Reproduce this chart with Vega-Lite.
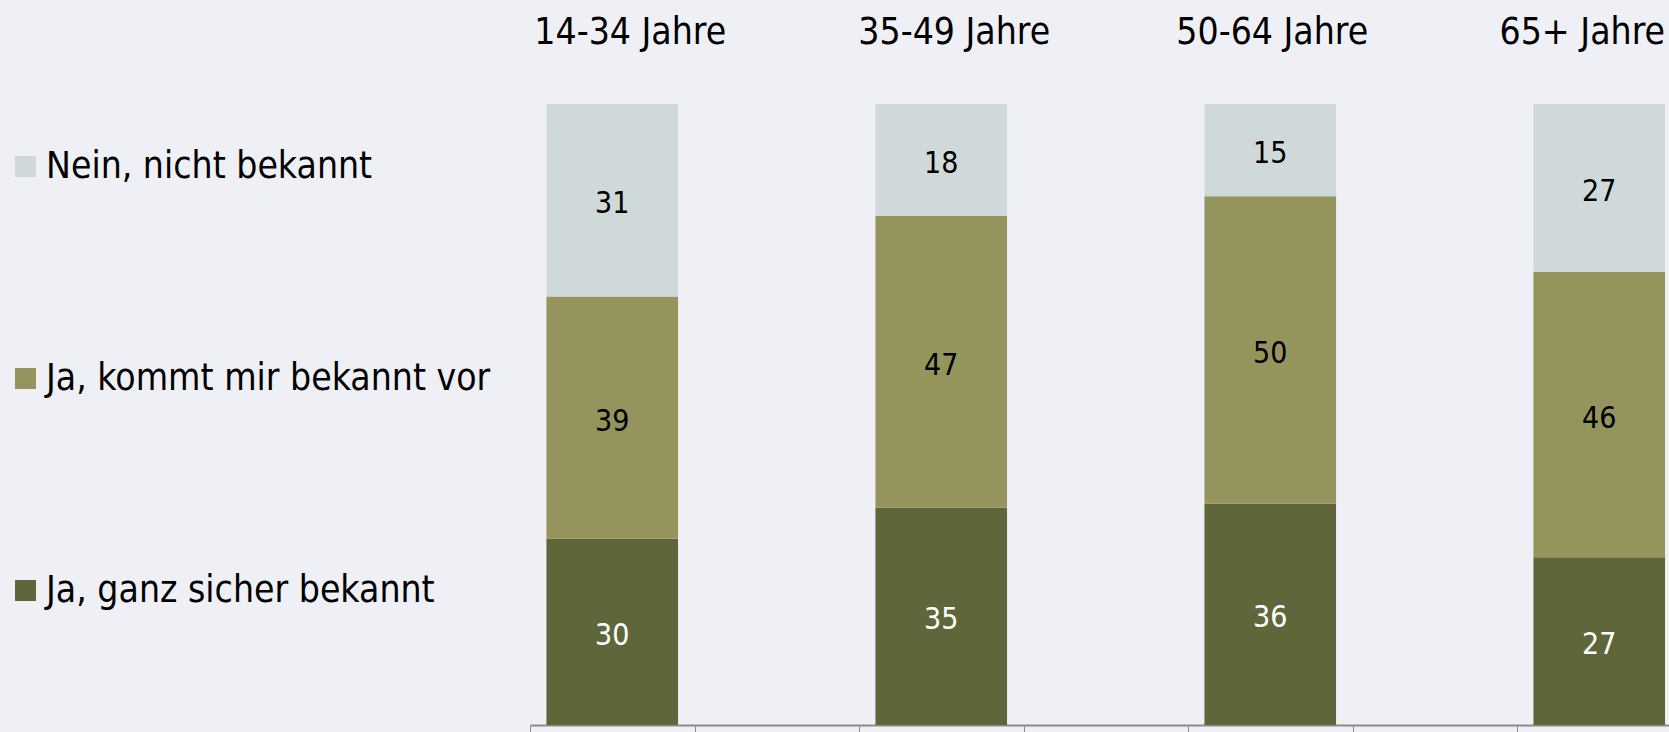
{
  "$schema": "https://vega.github.io/schema/vega-lite/v6.json",
  "autosize": {"type": "none"},
  "padding": {"left": 530, "top": 104, "right": 0, "bottom": 7},
  "width": 1139,
  "height": 621,
  "background": "#EFF0F5",
  "config": {"view": {"stroke": null}, "font": "DejaVu Sans Condensed"},
  "data": {
    "values": [
      {"group": "14-34 Jahre", "answer": "Ja, ganz sicher bekannt", "value": 30},
      {"group": "14-34 Jahre", "answer": "Ja, kommt mir bekannt vor", "value": 39},
      {"group": "14-34 Jahre", "answer": "Nein, nicht bekannt", "value": 31},
      {"group": "35-49 Jahre", "answer": "Ja, ganz sicher bekannt", "value": 35},
      {"group": "35-49 Jahre", "answer": "Ja, kommt mir bekannt vor", "value": 47},
      {"group": "35-49 Jahre", "answer": "Nein, nicht bekannt", "value": 18},
      {"group": "50-64 Jahre", "answer": "Ja, ganz sicher bekannt", "value": 36},
      {"group": "50-64 Jahre", "answer": "Ja, kommt mir bekannt vor", "value": 50},
      {"group": "50-64 Jahre", "answer": "Nein, nicht bekannt", "value": 15},
      {"group": "65+ Jahre", "answer": "Ja, ganz sicher bekannt", "value": 27},
      {"group": "65+ Jahre", "answer": "Ja, kommt mir bekannt vor", "value": 46},
      {"group": "65+ Jahre", "answer": "Nein, nicht bekannt", "value": 27}
    ]
  },
  "resolve": {"axis": {"x": "independent"}},
  "layer": [
    {
      "mark": {"type": "bar", "width": {"band": 0.8}},
      "encoding": {
        "x": {
          "field": "group", "type": "nominal", "sort": null,
          "scale": {"domain": ["14-34 Jahre", "_1", "35-49 Jahre", "_2", "50-64 Jahre", "_3", "65+ Jahre", "_4"], "range": [0, 1316], "paddingInner": 0, "paddingOuter": 0},
          "axis": {"orient": "bottom", "title": null, "labels": false, "grid": false, "domainColor": "#8C8C8C", "domainWidth": 2, "tickColor": "#8C8C8C", "tickWidth": 1, "tickSize": 7, "tickBand": "extent"}
        },
        "y": {"field": "value", "type": "quantitative", "stack": "normalize", "axis": null, "scale": {"domain": [0, 1]}},
        "color": {
          "field": "answer", "type": "nominal",
          "scale": {"domain": ["Nein, nicht bekannt", "Ja, kommt mir bekannt vor", "Ja, ganz sicher bekannt"], "range": ["#D0D9D9", "#95945C", "#5F673A"]},
          "legend": {"title": null, "orient": "none", "legendX": -523, "legendY": 44, "symbolType": "square", "symbolSize": 441, "symbolStrokeWidth": 0, "labelFontSize": 37, "labelFont": "DejaVu Sans Condensed", "labelColor": "black", "rowPadding": 174, "labelLimit": 0, "labelOffset": 2}
        },
        "order": {"field": "answer", "sort": "ascending"}
      }
    },
    {
      "mark": {"type": "text", "fontSize": 30, "baseline": "middle", "dy": 4, "font": "DejaVu Sans Condensed"},
      "encoding": {
        "x": {
          "field": "group", "type": "nominal", "sort": null,
          "axis": {"orient": "top", "title": null, "domain": false, "ticks": false, "tickSize": 0, "labelAngle": 0, "labelFontSize": 37, "labelFont": "DejaVu Sans Condensed", "labelColor": "black", "labelBaseline": "alphabetic", "labelPadding": 61, "labelLimit": 0, "labelOffset": {"expr": "datum.value === '14-34 Jahre' ? 18 : datum.value === '35-49 Jahre' ? 13 : datum.value === '50-64 Jahre' ? 2 : -17"}, "labelExpr": "indexof(datum.label, '_') === 0 ? '' : datum.label"}
        },
        "y": {"field": "value", "type": "quantitative", "stack": "normalize", "bandPosition": 0.5, "axis": null},
        "detail": {"field": "answer"},
        "order": {"field": "answer", "sort": "ascending"},
        "text": {"field": "value"},
        "color": {"condition": {"test": "datum.answer === 'Ja, ganz sicher bekannt'", "value": "white"}, "value": "black"}
      }
    }
  ]
}
